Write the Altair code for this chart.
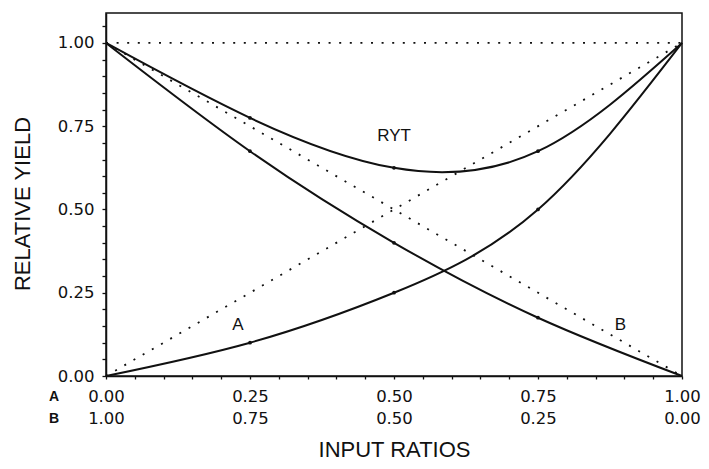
import altair as alt
import pandas as pd

# input ratio of A (B = 1 - A)
ratio = [0.0, 0.25, 0.5, 0.75, 1.0]
yield_a = [0.0, 0.10, 0.25, 0.50, 1.0]
yield_b = [1.0, 0.675, 0.40, 0.175, 0.0]
yield_ryt = [1.0, 0.775, 0.625, 0.675, 1.0]

# dotted reference lines
ref_x = [0.0, 1.0]
ref_a = [0.0, 1.0]
ref_b = [1.0, 0.0]
ref_one = [1.0, 1.0]

# curve labels
label_text = ["RYT", "A", "B"]
label_x = [0.50, 0.229, 0.893]
label_y = [0.706, 0.138, 0.138]

# row labels of the two-line x axis
row_text = ["A", "B"]
row_x = [-0.09, -0.09]
row_y = [-0.0742, -0.141]

tick_values = [0.0, 0.05, 0.10, 0.15, 0.20, 0.25, 0.30, 0.35, 0.40, 0.45, 0.50,
               0.55, 0.60, 0.65, 0.70, 0.75, 0.80, 0.85, 0.90, 0.95, 1.0]
y_tick_values = tick_values + [1.05]

curves = pd.DataFrame(
    [{"x": x, "y": y, "s": "A"} for x, y in zip(ratio, yield_a)]
    + [{"x": x, "y": y, "s": "B"} for x, y in zip(ratio, yield_b)]
    + [{"x": x, "y": y, "s": "RYT"} for x, y in zip(ratio, yield_ryt)]
)
refs = pd.DataFrame(
    [{"x": x, "y": y, "s": "ra"} for x, y in zip(ref_x, ref_a)]
    + [{"x": x, "y": y, "s": "rb"} for x, y in zip(ref_x, ref_b)]
    + [{"x": x, "y": y, "s": "r1"} for x, y in zip(ref_x, ref_one)]
)
labels = pd.DataFrame({"x": label_x, "y": label_y, "t": label_text})
rows = pd.DataFrame({"x": row_x, "y": row_y, "t": row_text})

major = "abs(datum.value*4 - round(datum.value*4)) < 0.001"

W = 576
H = 363

xscale = alt.Scale(domain=[0, 1], nice=False, zero=False)
yscale = alt.Scale(domain=[0, 1.09], nice=False, zero=False)

xaxis = alt.Axis(
    values=tick_values,
    labelExpr=f"{major} ? [format(datum.value, '.2f'), format(1 - datum.value, '.2f')] : ''",
    tickSize=3,
    labelPadding=9,
    labelFont="DejaVu Sans",
    labelFontSize=16.5,
    labelColor="#111",
    labelLineHeight=22.5,
    labelBaseline="top",
    labelFlush=False,
    labelOverlap=False,
    grid=False,
    title="INPUT RATIOS",
    titleFont="Liberation Sans",
    titleFontSize=22,
    titleFontWeight="normal",
    titleColor="#111",
    titleX=W / 2,
    titleY=80,
    titleAlign="center",
    titleBaseline="alphabetic",
)
yaxis = alt.Axis(
    values=y_tick_values,
    labelExpr=f"{major} ? format(datum.value, '.2f') : ''",
    tickSize=4,
    labelPadding=8,
    labelFont="DejaVu Sans",
    labelFontSize=16.5,
    labelColor="#111",
    labelBaseline="middle",
    labelFlush=False,
    labelOverlap=False,
    grid=False,
    title="RELATIVE YIELD",
    titleFont="Liberation Sans",
    titleFontSize=22,
    titleFontWeight="normal",
    titleColor="#111",
    titleAngle=-90,
    titleX=-84,
    titleY=190.5,
    titleAlign="center",
    titleBaseline="middle",
)

base_x = alt.X("x:Q", scale=xscale, axis=xaxis)
base_y = alt.Y("y:Q", scale=yscale, axis=yaxis)

ref_layer = alt.Chart(refs).mark_line(
    color="#111", strokeWidth=1.8, strokeDash=[2, 8.6]
).encode(x=base_x, y=base_y, detail="s:N")

curve_layer = alt.Chart(curves).mark_line(
    color="#111", strokeWidth=2, interpolate="natural"
).encode(x=base_x, y=base_y, detail="s:N")

point_layer = alt.Chart(curves).transform_filter(
    "datum.x > 0 && datum.x < 1"
).mark_circle(color="#111", size=14, opacity=1).encode(x=base_x, y=base_y)

label_layer = alt.Chart(labels).mark_text(
    font="Liberation Sans", fontSize=17, color="#111", align="center", baseline="alphabetic"
).encode(x=base_x, y=base_y, text="t:N")

row_layer = alt.Chart(rows).mark_text(
    font="Liberation Sans", fontSize=14, fontWeight="bold", color="#111",
    align="center", baseline="alphabetic"
).encode(x=base_x, y=base_y, text="t:N")

chart = alt.layer(
    ref_layer, curve_layer, point_layer, label_layer, row_layer
).properties(
    width=W,
    height=H,
    autosize=alt.AutoSizeParams(type="none"),
    padding={"left": 98, "top": 5, "right": 19, "bottom": 85},
    background="white",
).configure_view(
    stroke="#111", strokeWidth=1.5
).configure_axis(
    domainColor="#111", domainWidth=1.5, tickColor="#111", tickWidth=1.3
)

chart.save("out.html", embed_options={"renderer": "svg", "actions": False})
